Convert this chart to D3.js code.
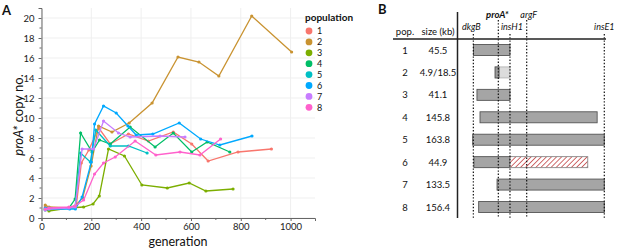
<!DOCTYPE html>
<html>
<head>
<meta charset="utf-8">
<script src="https://d3js.org/d3.v7.min.js"></script>
<style>
  body { margin: 0; background: #fff; }
  text { font-family: Lato, sans-serif; fill: #111; }
</style>
</head>
<body>
<script>
    // ---- Panel A data: generation / proA* copy number per population
    var populations = ["1", "2", "3", "4", "5", "6", "7", "8"];
    var popColors = ["#F8766D", "#C99331", "#7CAE00", "#00BE67", "#00BFC4", "#00A9FF", "#C77CFF", "#FF61CC"];

    var gen1 = [15, 30, 110, 140, 160, 190, 230, 276, 349, 429, 529, 603, 669, 789, 923];
    var copy1 = [1.1, 1.0, 1.0, 1.3, 5.5, 6.8, 9.0, 7.4, 8.4, 7.7, 8.6, 7.4, 5.7, 6.6, 6.9];
    var gen2 = [15, 30, 110, 135, 165, 199, 229, 283, 352, 444, 548, 632, 712, 844, 1004];
    var copy2 = [1.3, 1.1, 1.0, 1.2, 2.0, 5.2, 9.2, 8.6, 9.5, 11.5, 16.1, 15.6, 14.2, 20.2, 16.6];
    var gen3 = [15, 30, 110, 169, 207, 232, 269, 333, 403, 505, 593, 660, 769];
    var copy3 = [0.9, 0.7, 1.0, 1.1, 1.4, 2.2, 6.9, 6.2, 3.3, 3.0, 3.5, 2.7, 2.9];
    var gen4 = [15, 30, 110, 135, 157, 203, 233, 276, 356, 456, 529, 603, 665, 756];
    var copy4 = [0.8, 0.9, 1.0, 1.9, 8.5, 6.6, 7.8, 7.4, 9.1, 7.1, 8.5, 6.6, 7.6, 6.6];
    var gen5 = [15, 30, 110, 135, 157, 196, 218, 276, 349, 424];
    var copy5 = [0.9, 1.0, 1.0, 1.1, 6.5, 5.6, 8.8, 7.2, 7.2, 6.5];
    var gen6 = [15, 30, 113, 136, 163, 200, 213, 249, 300, 347, 380, 447, 553, 639, 716, 845];
    var copy6 = [1.0, 0.9, 0.9, 0.9, 2.1, 5.6, 9.4, 11.2, 10.5, 9.2, 8.3, 8.4, 9.5, 7.9, 7.3, 8.2];
    var gen7 = [15, 30, 110, 135, 163, 209, 249, 309, 356, 476, 576];
    var copy7 = [0.8, 0.9, 1.0, 1.1, 6.9, 6.9, 9.7, 8.5, 8.1, 8.2, 8.1];
    var gen8 = [15, 30, 110, 135, 169, 213, 249, 296, 376, 459, 556, 636, 719];
    var copy8 = [0.9, 1.0, 1.1, 1.2, 1.8, 4.4, 5.5, 6.1, 7.7, 6.3, 6.6, 6.3, 7.9];

    var xTickValues = [0, 200, 400, 600, 800, 1000];
    var yTickValues = [0, 2, 4, 6, 8, 10, 12, 14, 16, 18, 20];

    // ---- Panel B data: duplicated regions (kb, measured from dkgB)
    var rowPops = ["1", "2", "3", "4", "5", "6", "7", "8"];
    var rowSizes = ["45.5", "4.9/18.5", "41.1", "145.8", "163.8", "44.9", "133.5", "156.4"];
    var barStart = [0.9, 27.9, 5.3, 9.1, 0, 1.5, 30.3, 7.4];
    var barEnd = [46.4, 46.4, 46.4, 154.9, 163.8, 46.4, 163.8, 163.8];
    var innerStart = [null, 27.9, null, null, null, null, null, null];   // 4.9 kb core of pop 2
    var innerEnd = [null, 32.8, null, null, null, null, null, null];
    var hatchEnd = [null, null, null, null, null, 143.2, null, null];     // pop 6 extension
    var geneNames = ["dkgB", "proA*", "insH1", "argF", "insE1"];
    var genePos = [0.8, 31.9, 46.4, 67.2, 163.8];
    var geneLabelRow = [1, 0, 1, 0, 1];   // 0 = upper label line, 1 = lower
    var geneLabelShift = [-2, -1, 2, 2, 0];

    var series = populations.map(function (p, i) {
        var g = [gen1, gen2, gen3, gen4, gen5, gen6, gen7, gen8][i];
        var c = [copy1, copy2, copy3, copy4, copy5, copy6, copy7, copy8][i];
        return { pop: p, color: popColors[i], values: g.map(function (d, j) { return { gen: d, copy: c[j] }; }) };
    });

    var svg = d3.select("body").append("svg").attr("width", 617).attr("height", 251);

    // =============== Panel A ===============
    var xScale = d3.scaleLinear().domain([0, 1098]).range([41.5, 315]);
    var yScale = d3.scaleLinear().domain([0, 21]).range([218, 8]);

    var gA = svg.append("g");

    // grid
    gA.append("g").selectAll("line").data(xTickValues).enter().append("line")
        .attr("x1", function (d) { return xScale(d); }).attr("x2", function (d) { return xScale(d); })
        .attr("y1", yScale.range()[1]).attr("y2", yScale.range()[0])
        .attr("stroke", "#efefef").attr("stroke-width", 1);
    gA.append("g").selectAll("line").data(yTickValues).enter().append("line")
        .attr("x1", xScale.range()[0]).attr("x2", xScale.range()[1])
        .attr("y1", function (d) { return yScale(d); }).attr("y2", function (d) { return yScale(d); })
        .attr("stroke", "#efefef").attr("stroke-width", 1);

    // axes (with unlabeled minor ticks)
    var xAxis = gA.append("g").attr("transform", "translate(0," + yScale.range()[0] + ")")
        .call(d3.axisBottom(xScale).tickValues(xTickValues).tickFormat(d3.format("d")).tickSize(3).tickPadding(2));
    xAxis.append("g").selectAll("line").data(d3.range(100, 1100, 200)).enter().append("line")
        .attr("x1", function (d) { return xScale(d); }).attr("x2", function (d) { return xScale(d); })
        .attr("y1", 0).attr("y2", 2).attr("stroke", "#666");
    var yAxis = gA.append("g").attr("transform", "translate(" + xScale.range()[0] + ",0)")
        .call(d3.axisLeft(yScale).tickValues(yTickValues).tickSize(3).tickPadding(4));
    yAxis.append("g").selectAll("line").data(d3.range(1, 21, 2)).enter().append("line")
        .attr("y1", function (d) { return yScale(d); }).attr("y2", function (d) { return yScale(d); })
        .attr("x1", 0).attr("x2", -2).attr("stroke", "#666");
    gA.selectAll(".domain").attr("stroke", "#666");
    gA.selectAll(".tick line").attr("stroke", "#666");
    gA.selectAll(".tick text").attr("font-size", 9.5).style("fill", "#222")
        .style("font-family", "Lato, sans-serif");

    // lines
    var line = d3.line().x(function (d) { return xScale(d.gen); }).y(function (d) { return yScale(d.copy); });
    var sg = gA.append("g").selectAll("g").data(series).enter().append("g");
    sg.append("path").attr("d", function (d) { return line(d.values); })
        .attr("fill", "none").attr("stroke", function (d) { return d.color; }).attr("stroke-width", 1.3);
    sg.selectAll("circle").data(function (d) { return d.values.map(function (v) { return { v: v, c: d.color }; }); })
        .enter().append("circle")
        .attr("cx", function (d) { return xScale(d.v.gen); }).attr("cy", function (d) { return yScale(d.v.copy); })
        .attr("r", 1.6).attr("fill", function (d) { return d.c; });

    // labels
    svg.append("text").attr("x", 2).attr("y", 15).attr("font-size", 13).attr("font-weight", "bold").text("A");
    var yl = svg.append("text").attr("transform", "translate(23,115) rotate(-90)")
        .attr("text-anchor", "middle").attr("font-size", 13);
    yl.append("tspan").attr("font-style", "italic").text("proA*");
    yl.append("tspan").text(" copy no.");
    svg.append("text").attr("x", 178).attr("y", 246).attr("text-anchor", "middle")
        .attr("font-size", 12.5).text("generation");

    // legend
    var leg = svg.append("g");
    leg.append("text").attr("x", 305).attr("y", 20.5).attr("font-size", 10).attr("font-weight", "bold").text("population");
    var li = leg.selectAll("g").data(series).enter().append("g")
        .attr("transform", function (d, i) { return "translate(309," + (31 + i * 10.9) + ")"; });
    li.append("circle").attr("r", 3.4).attr("fill", function (d) { return d.color; });
    li.append("text").attr("x", 8).attr("y", 3.3).attr("font-size", 9).text(function (d) { return d.pop; });

    // =============== Panel B ===============
    var kb = d3.scaleLinear().domain([0, 163.8]).range([472.7, 604.3]);
    var rowY = d3.scalePoint().domain(rowPops).range([50, 207]);
    var gB = svg.append("g");

    var defs = svg.append("defs");
    var pat = defs.append("pattern").attr("id", "hatch").attr("patternUnits", "userSpaceOnUse")
        .attr("width", 3.6).attr("height", 3.6).attr("patternTransform", "rotate(45)");
    pat.append("rect").attr("width", 3.6).attr("height", 3.6).attr("fill", "#fff");
    pat.append("line").attr("x1", 0).attr("y1", 0).attr("x2", 0).attr("y2", 3.6)
        .attr("stroke", "#c0393b").attr("stroke-width", 1.5);

    svg.append("text").attr("x", 378).attr("y", 14).attr("font-size", 13).attr("font-weight", "bold").text("B");

    gB.append("text").attr("x", 405).attr("y", 34.5).attr("text-anchor", "middle").attr("font-size", 9.5).text("pop.");
    gB.append("text").attr("x", 438).attr("y", 34.5).attr("text-anchor", "middle").attr("font-size", 9.5).text("size (kb)");

    // bars
    var bars = gB.append("g").selectAll("g").data(rowPops).enter().append("g");
    bars.append("rect")
        .attr("x", function (d, i) { return kb(barStart[i]); })
        .attr("y", function (d) { return rowY(d) - 5.5; })
        .attr("width", function (d, i) { return kb(barEnd[i]) - kb(barStart[i]); })
        .attr("height", 11)
        .attr("fill", function (d, i) { return innerStart[i] != null ? "#dcdcdc" : "#a5a5a5"; })
        .attr("stroke", function (d, i) { return innerStart[i] != null ? "#b5b5b5" : "#555"; })
        .attr("stroke-width", 0.9);
    bars.filter(function (d, i) { return innerStart[i] != null; }).append("rect")
        .attr("x", function (d) { var i = rowPops.indexOf(d); return kb(innerStart[i]); })
        .attr("y", function (d) { return rowY(d) - 5.5; })
        .attr("width", function (d) { var i = rowPops.indexOf(d); return kb(innerEnd[i]) - kb(innerStart[i]); })
        .attr("height", 11).attr("fill", "#9a9a9a").attr("stroke", "#555").attr("stroke-width", 0.9);
    bars.filter(function (d, i) { return hatchEnd[i] != null; }).append("rect")
        .attr("x", function (d) { var i = rowPops.indexOf(d); return kb(barEnd[i]); })
        .attr("y", function (d) { return rowY(d) - 5.5; })
        .attr("width", function (d) { var i = rowPops.indexOf(d); return kb(hatchEnd[i]) - kb(barEnd[i]); })
        .attr("height", 11).attr("fill", "url(#hatch)").attr("stroke", "#888").attr("stroke-width", 0.9);

    // dotted gene lines
    gB.append("g").selectAll("line").data(geneNames).enter().append("line")
        .attr("x1", function (d, i) { return kb(genePos[i]); }).attr("x2", function (d, i) { return kb(genePos[i]); })
        .attr("y1", function (d, i) { return geneLabelRow[i] === 0 ? 20 : 34; }).attr("y2", 218)
        .attr("stroke", "#111").attr("stroke-width", 1.2).attr("stroke-dasharray", "1.4,1.8");
    gB.append("g").selectAll("text").data(geneNames).enter().append("text")
        .attr("x", function (d, i) { return kb(genePos[i]) + geneLabelShift[i]; })
        .attr("y", function (d, i) { return geneLabelRow[i] === 0 ? 18 : 30; })
        .attr("text-anchor", "middle")
        .attr("font-size", function (d) { return d === "proA*" ? 9.5 : 9; })
        .attr("font-style", "italic")
        .attr("font-weight", function (d) { return d === "proA*" ? "bold" : "normal"; })
        .text(function (d) { return d; });

    // frame lines
    gB.append("line").attr("x1", 393).attr("x2", 606).attr("y1", 39).attr("y2", 39)
        .attr("stroke", "#222").attr("stroke-width", 1.5);
    gB.append("line").attr("x1", 457.5).attr("x2", 457.5).attr("y1", 12).attr("y2", 218)
        .attr("stroke", "#222").attr("stroke-width", 1.5);

    // row labels
    gB.append("g").selectAll("text").data(rowPops).enter().append("text")
        .attr("x", 405).attr("y", function (d) { return rowY(d) + 3.5; })
        .attr("text-anchor", "middle").attr("font-size", 9.5).text(function (d) { return d; });
    gB.append("g").selectAll("text").data(rowSizes).enter().append("text")
        .attr("x", 438).attr("y", function (d, i) { return rowY(rowPops[i]) + 3.5; })
        .attr("text-anchor", "middle").attr("font-size", 9.5).text(function (d) { return d; });
</script>
</body>
</html>
